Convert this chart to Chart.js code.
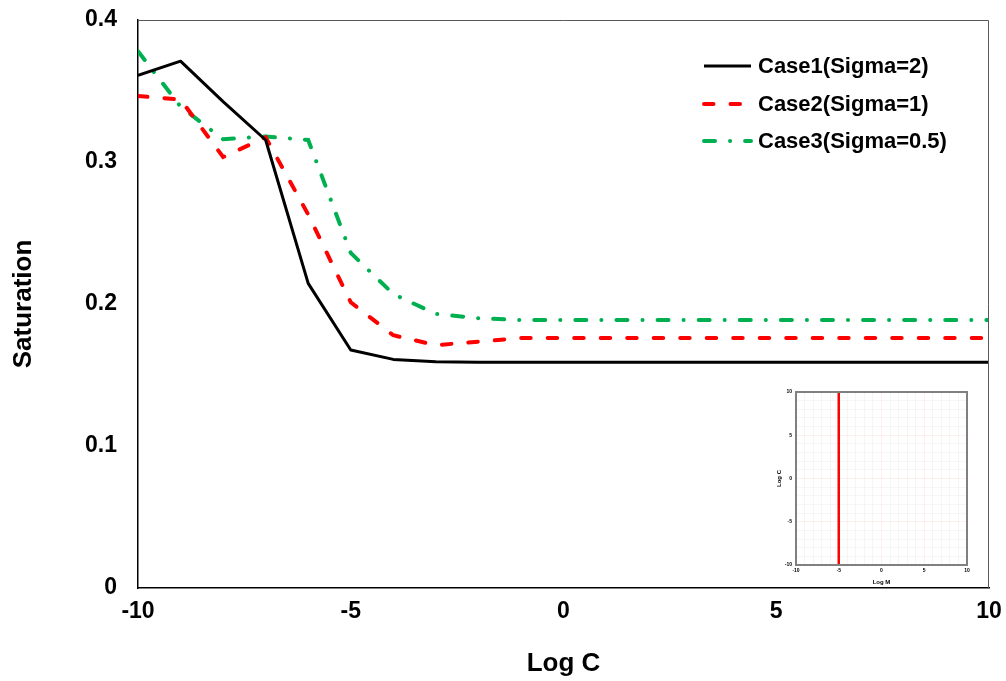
<!DOCTYPE html>
<html><head><meta charset="utf-8">
<script src="https://cdn.jsdelivr.net/npm/chart.js@4.4.1/dist/chart.umd.min.js"></script>
<style>
html,body{margin:0;padding:0;background:#fff;}
#wrap{position:relative;width:1006px;height:681px;overflow:hidden;}
#main{position:absolute;left:0;top:0;}
#inset{position:absolute;left:766px;top:380px;}
</style></head><body>
<div id="wrap">
<canvas id="main" width="1006" height="681"></canvas>
<canvas id="inset" width="210" height="210"></canvas>
</div>
<script>
// ---- data ----
const logC = [-10,-9,-8,-7,-6,-5,-4,-3,-2,-1,0,1,2,3,4,5,6,7,8,9,10];
const case1 = [0.361,0.371,0.3425,0.3155,0.2145,0.1676,0.161,0.1594,0.159,0.159,0.159,0.159,0.159,0.159,0.159,0.159,0.159,0.159,0.159,0.159,0.159];
const case2 = [0.3465,0.344,0.3035,0.3174,0.263,0.2012,0.178,0.171,0.1735,0.176,0.176,0.176,0.176,0.176,0.176,0.176,0.176,0.176,0.176,0.176,0.176];
const case3 = [0.378,0.339,0.316,0.318,0.3155,0.236,0.207,0.193,0.190,0.1887,0.1887,0.1887,0.1887,0.1887,0.1887,0.1887,0.1887,0.1887,0.1887,0.1887,0.1887];
const seriesNames = ['Case1(Sigma=2)','Case2(Sigma=1)','Case3(Sigma=0.5)'];
const xTicks = [-10,-5,0,5,10];
const yTicks = [0,0.1,0.2,0.3,0.4];
const insetLogM = [-5,-5];
const insetLogC = [-10,10];
const insetTicks = [-10,-5,0,5,10];

const FONT = "'Liberation Sans', Arial, sans-serif";
Chart.defaults.font.family = FONT;
Chart.defaults.color = '#000';

function pts(xs, ys){ return xs.map((x,i)=>({x:x, y:ys[i]})); }
function noPad(s){ s.paddingTop = 0; s.paddingBottom = 0; s.paddingLeft = 0; s.paddingRight = 0; }

const frame = {
  id:'frame',
  afterDraw(chart, args, opts){
    const a = chart.chartArea, ctx = chart.ctx;
    ctx.save();
    ctx.strokeStyle = opts.color || '#595959';
    ctx.lineWidth = opts.width || 1;
    ctx.beginPath();
    ctx.moveTo(a.left, a.top+0.5); ctx.lineTo(a.right-0.5, a.top+0.5); ctx.lineTo(a.right-0.5, a.bottom);
    ctx.stroke();
    ctx.restore();
  }
};

const legendIn = {
  id:'legendIn',
  afterDraw(chart){
    const ctx = chart.ctx;
    const rows = [66,104,141];
    ctx.save();
    chart.data.datasets.forEach((ds,i)=>{
      const y = rows[i];
      ctx.strokeStyle = ds.borderColor;
      ctx.lineWidth = ds.borderWidth;
      ctx.lineCap = ds.borderCapStyle || 'butt';
      ctx.setLineDash(ds.borderDash || []);
      ctx.beginPath(); ctx.moveTo(704,y); ctx.lineTo(751,y); ctx.stroke();
      ctx.setLineDash([]);
      ctx.fillStyle = '#000';
      ctx.font = "bold 22px " + FONT;
      ctx.textBaseline = 'middle';
      ctx.textAlign = 'left';
      ctx.fillText(ds.label, 758, y+1);
    });
    ctx.restore();
  }
};

new Chart(document.getElementById('main'), {
  type:'line',
  data:{ datasets:[
    {label:seriesNames[0], data:pts(logC,case1), borderColor:'#000000', borderWidth:3, pointRadius:0, tension:0, fill:false, borderJoinStyle:'round'},
    {label:seriesNames[1], data:pts(logC,case2), borderColor:'#FF0000', borderWidth:4, borderDash:[9.5,17], borderCapStyle:'round', pointRadius:0, tension:0, fill:false},
    {label:seriesNames[2], data:pts(logC,case3), borderColor:'#00B050', borderWidth:4, borderDash:[11,15,0.1,15], borderCapStyle:'round', pointRadius:0, tension:0, fill:false}
  ]},
  options:{
    responsive:false, animation:false, devicePixelRatio:1,
    layout:{padding:{left:0, top:20, right:17, bottom:0}},
    plugins:{legend:{display:false}, tooltip:{enabled:false}, frame:{color:'#595959', width:1}},
    scales:{
      x:{type:'linear', min:-10, max:10,
        afterBuildTicks(s){ s.ticks = xTicks.map(v=>({value:v})); },
        afterFit(s){ s.height = 93; noPad(s); },
        grid:{display:false, drawTicks:false, tickLength:0},
        border:{display:true, color:'#000', width:1.5},
        ticks:{padding:10, font:{size:23, weight:'bold'}, color:'#000', maxRotation:0, callback:v=>String(v)},
        title:{display:true, text:'Log C', font:{size:26, weight:'bold'}, color:'#000', padding:{top:0, bottom:2}}
      },
      y:{type:'linear', min:0, max:0.4,
        afterBuildTicks(s){ s.ticks = yTicks.map(v=>({value:v})); },
        afterFit(s){ s.width = 138; noPad(s); },
        grid:{display:false, drawTicks:false, tickLength:0},
        border:{display:true, color:'#000', width:1.5},
        ticks:{padding:21, font:{size:23, weight:'bold'}, color:'#000', callback:v=>String(+(+v).toFixed(1))},
        title:{display:true, text:'Saturation', font:{size:26, weight:'bold'}, color:'#000', padding:{top:8, bottom:0}}
      }
    }
  },
  plugins:[frame, legendIn]
});

const insetFrame = {
  id:'insetFrame',
  afterDraw(chart){
    const a = chart.chartArea, ctx = chart.ctx;
    ctx.save(); ctx.strokeStyle = '#808080'; ctx.lineWidth = 2;
    ctx.strokeRect(a.left, a.top, a.right-a.left, a.bottom-a.top);
    ctx.restore();
  }
};

new Chart(document.getElementById('inset'), {
  type:'line',
  data:{ datasets:[
    {label:'inset', data:pts(insetLogM, insetLogC), borderColor:'#FF0000', borderWidth:2.5, pointRadius:0, tension:0, fill:false}
  ]},
  options:{
    responsive:false, animation:false, devicePixelRatio:1,
    layout:{padding:{left:0, top:12, right:9, bottom:0}},
    plugins:{legend:{display:false}, tooltip:{enabled:false}},
    scales:{
      x:{type:'linear', min:-10, max:10,
        afterBuildTicks(s){ const t=[]; for(let v=-10; v<=10; v++) t.push({value:v}); s.ticks=t; },
        afterFit(s){ s.height = 25; noPad(s); },
        grid:{display:true, drawTicks:false, tickLength:0, lineWidth:1,
          color:c=> (c.tick && insetTicks.includes(c.tick.value)) ? 'rgba(255,120,120,0.12)' : 'rgba(0,0,0,0.035)'},
        border:{display:false},
        ticks:{padding:3, autoSkip:false, maxRotation:0, font:{size:5, weight:'bold'}, color:'#000', callback:v=> insetTicks.includes(v) ? String(v) : ''},
        title:{display:true, text:'Log M', font:{size:6, weight:'bold'}, color:'#000', padding:{top:0, bottom:4}}
      },
      y:{type:'linear', min:-10, max:10,
        afterBuildTicks(s){ const t=[]; for(let v=-10; v<=10; v++) t.push({value:v}); s.ticks=t; },
        afterFit(s){ s.width = 30; noPad(s); },
        grid:{display:true, drawTicks:false, tickLength:0, lineWidth:1,
          color:c=> (c.tick && insetTicks.includes(c.tick.value)) ? 'rgba(255,120,120,0.12)' : 'rgba(0,0,0,0.035)'},
        border:{display:false},
        ticks:{padding:4, autoSkip:false, font:{size:5, weight:'bold'}, color:'#000', callback:v=> insetTicks.includes(v) ? String(v) : ''},
        title:{display:true, text:'Log C', font:{size:6, weight:'bold'}, color:'#000', padding:{top:10, bottom:0}}
      }
    }
  },
  plugins:[insetFrame]
});
</script>
</body></html>
